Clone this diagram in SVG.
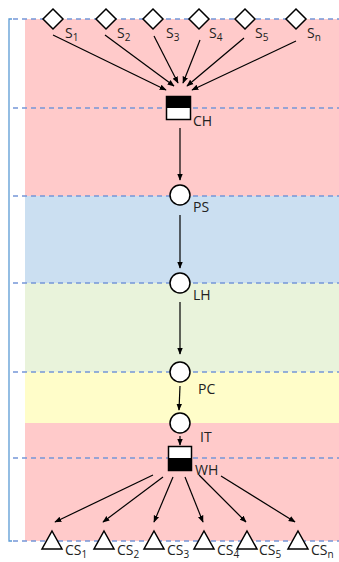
<svg xmlns="http://www.w3.org/2000/svg" width="339" height="562" viewBox="0 0 339 562">
<defs>
<marker id="ah" viewBox="0 0 10 10" refX="9" refY="5" markerWidth="7" markerHeight="7" orient="auto" markerUnits="userSpaceOnUse">
<path d="M0,1 L10,5 L0,9 Z" fill="#000"/>
</marker>
<style>
.lbl{font-family:"Open Sans","Liberation Sans",sans-serif;font-size:14px;fill:#222}
.sub{font-size:10px}
.dash{stroke:#7596d8;stroke-width:1.3;stroke-dasharray:5 4;fill:none}
.conn line{stroke:#000;stroke-width:1.2;marker-end:url(#ah)}
.nd{fill:#fff;stroke:#000;stroke-width:1.5}
</style>
</defs>
<rect width="339" height="562" fill="#fff"/>
<g id="bands">
<rect x="25" y="19" width="314" height="177" fill="#ffcaca"/>
<rect x="25" y="196" width="314" height="87" fill="#cbdff1"/>
<rect x="25" y="283" width="314" height="89" fill="#e9f3db"/>
<rect x="25" y="372" width="314" height="51" fill="#fffdc9"/>
<rect x="25" y="423" width="314" height="118" fill="#ffcaca"/>
</g>
<g id="guides">
<path d="M12,19 H9 V541 H12" stroke="#5b9bd5" stroke-width="1.3" fill="none"/>
<line class="dash" x1="13" y1="19" x2="339" y2="19"/>
<line class="dash" x1="13" y1="108" x2="339" y2="108"/>
<line class="dash" x1="13" y1="196" x2="339" y2="196"/>
<line class="dash" x1="13" y1="283" x2="339" y2="283"/>
<line class="dash" x1="13" y1="372" x2="339" y2="372"/>
<line class="dash" x1="13" y1="458" x2="339" y2="458"/>
<line class="dash" x1="13" y1="541" x2="339" y2="541"/>
</g>
<g id="connectors" class="conn">
<line x1="53" y1="35" x2="166" y2="90"/>
<line x1="105" y1="35" x2="174" y2="86"/>
<line x1="154" y1="36" x2="178" y2="83"/>
<line x1="200" y1="40" x2="183" y2="83"/>
<line x1="244" y1="38" x2="187" y2="86"/>
<line x1="296" y1="41" x2="192" y2="90"/>
<line x1="180" y1="128" x2="180" y2="180"/>
<line x1="180" y1="215" x2="180" y2="268"/>
<line x1="180" y1="302" x2="180" y2="354"/>
<line x1="180" y1="386" x2="179" y2="410"/>
<line x1="180" y1="436" x2="180" y2="445"/>
<line x1="153" y1="475" x2="55" y2="522"/>
<line x1="163" y1="477" x2="103" y2="522"/>
<line x1="173" y1="477" x2="154" y2="522"/>
<line x1="185" y1="477" x2="203" y2="522"/>
<line x1="199" y1="475" x2="246" y2="522"/>
<line x1="221" y1="476" x2="295" y2="522"/>
</g>
<g id="S1"><path class="nd" d="M53,9 L63,19 L53,29 L43,19 Z"/><text class="lbl" x="65" y="38">S<tspan class="sub" dy="3">1</tspan></text></g>
<g id="S2"><path class="nd" d="M106,9 L116,19 L106,29 L96,19 Z"/><text class="lbl" x="117" y="38">S<tspan class="sub" dy="3">2</tspan></text></g>
<g id="S3"><path class="nd" d="M153,9 L163,19 L153,29 L143,19 Z"/><text class="lbl" x="166" y="38">S<tspan class="sub" dy="3">3</tspan></text></g>
<g id="S4"><path class="nd" d="M199,9 L209,19 L199,29 L189,19 Z"/><text class="lbl" x="209" y="38">S<tspan class="sub" dy="3">4</tspan></text></g>
<g id="S5"><path class="nd" d="M245,9 L255,19 L245,29 L235,19 Z"/><text class="lbl" x="255" y="38">S<tspan class="sub" dy="3">5</tspan></text></g>
<g id="Sn"><path class="nd" d="M296,9 L306,19 L296,29 L286,19 Z"/><text class="lbl" x="307" y="38">S<tspan class="sub" dy="3">n</tspan></text></g>
<g id="CH"><rect x="166.5" y="96.5" width="24" height="23" fill="#fff" stroke="#000" stroke-width="1.5"/><rect x="166.5" y="96.5" width="24" height="11.5" fill="#000"/><text class="lbl" x="193" y="126">CH</text></g>
<g id="PS"><circle class="nd" cx="180" cy="195" r="10"/><text class="lbl" x="193" y="212">PS</text></g>
<g id="LH"><circle class="nd" cx="180" cy="283" r="10"/><text class="lbl" x="193" y="300">LH</text></g>
<g id="PC"><circle class="nd" cx="180" cy="372" r="10"/><text class="lbl" x="198" y="394">PC</text></g>
<g id="IT"><circle class="nd" cx="180" cy="423" r="10"/><text class="lbl" x="200" y="442">IT</text></g>
<g id="WH"><rect x="168.5" y="446.5" width="23" height="24" fill="#fff" stroke="#000" stroke-width="1.5"/><rect x="168.5" y="458" width="23" height="12.5" fill="#000"/><text class="lbl" x="195" y="475">WH</text></g>
<g id="CS1"><path class="nd" d="M52,531 L62,549 L42,549 Z"/><text class="lbl" x="65" y="555">CS<tspan class="sub" dy="3">1</tspan></text></g>
<g id="CS2"><path class="nd" d="M104,531 L114,549 L94,549 Z"/><text class="lbl" x="117" y="555">CS<tspan class="sub" dy="3">2</tspan></text></g>
<g id="CS3"><path class="nd" d="M154,531 L164,549 L144,549 Z"/><text class="lbl" x="167" y="555">CS<tspan class="sub" dy="3">3</tspan></text></g>
<g id="CS4"><path class="nd" d="M204,531 L214,549 L194,549 Z"/><text class="lbl" x="217" y="555">CS<tspan class="sub" dy="3">4</tspan></text></g>
<g id="CS5"><path class="nd" d="M247,531 L257,549 L237,549 Z"/><text class="lbl" x="259" y="555">CS<tspan class="sub" dy="3">5</tspan></text></g>
<g id="CSn"><path class="nd" d="M298,531 L308,549 L288,549 Z"/><text class="lbl" x="311" y="555">CS<tspan class="sub" dy="3">n</tspan></text></g>
</svg>
